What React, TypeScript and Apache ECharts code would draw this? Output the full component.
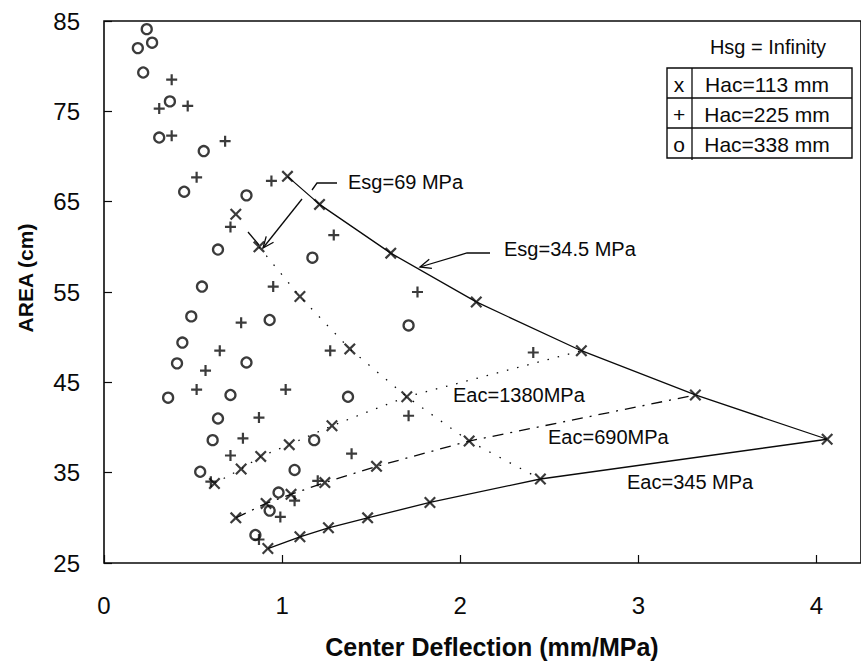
import React, { useEffect, useRef } from "react";
import * as echarts from "echarts";

// ---- data (Center Deflection mm/MPa, AREA cm) ----
const hac113: number[][] = [
  [1.03, 67.8], [1.21, 64.7], [1.61, 59.3], [2.09, 53.9], [2.68, 48.5], [3.32, 43.6], [4.06, 38.7],
  [0.87, 60.0], [1.10, 54.5], [1.38, 48.7], [1.70, 43.4], [2.05, 38.5], [2.45, 34.3],
  [0.62, 33.8], [0.77, 35.4], [0.88, 36.8], [1.04, 38.1], [1.28, 40.2],
  [0.74, 30.0], [0.91, 31.6], [1.05, 32.6], [1.24, 33.9], [1.53, 35.7],
  [0.92, 26.6], [1.10, 27.9], [1.26, 28.9], [1.48, 30.0], [1.83, 31.7],
  [0.74, 63.6],
];
const hac225: number[][] = [
  [0.38, 78.5], [0.31, 75.3], [0.47, 75.6], [0.38, 72.3], [0.68, 71.7], [0.52, 67.7], [0.94, 67.3],
  [0.71, 62.2], [1.29, 61.3], [1.76, 55.0], [0.95, 55.6], [0.77, 51.6], [1.27, 48.5], [0.65, 48.5],
  [2.41, 48.3], [0.57, 46.3], [0.52, 44.2], [1.02, 44.2], [0.87, 41.1], [1.71, 41.3], [0.78, 38.8],
  [0.71, 36.9], [1.39, 37.1], [0.60, 34.0], [1.20, 34.1], [1.07, 31.9], [0.99, 30.1], [0.87, 27.6],
];
const hac338: number[][] = [
  [0.24, 84.1], [0.19, 82.0], [0.27, 82.6], [0.22, 79.3], [0.37, 76.1], [0.31, 72.1], [0.56, 70.6],
  [0.45, 66.1], [0.80, 65.7], [0.64, 59.7], [1.17, 58.8], [0.55, 55.6], [0.49, 52.3], [0.93, 51.9],
  [1.71, 51.3], [0.44, 49.4], [0.41, 47.1], [0.80, 47.2], [0.36, 43.3], [0.71, 43.6], [1.37, 43.4],
  [0.64, 41.0], [0.61, 38.6], [1.18, 38.6], [0.54, 35.1], [1.07, 35.3], [0.98, 32.8], [0.93, 30.8],
  [0.85, 28.1],
];
const esg345: number[][] = [[1.03, 67.8], [1.21, 64.7], [1.61, 59.3], [2.09, 53.9], [2.68, 48.5], [3.32, 43.6], [4.06, 38.7]];
const esg69: number[][] = [[0.87, 60.0], [1.10, 54.5], [1.38, 48.7], [1.70, 43.4], [2.05, 38.5], [2.45, 34.3]];
const eac1380: number[][] = [[0.62, 33.8], [0.77, 35.4], [0.88, 36.8], [1.04, 38.1], [1.28, 40.2], [1.70, 43.4], [2.68, 48.5]];
const eac690: number[][] = [[0.74, 30.0], [0.91, 31.6], [1.05, 32.6], [1.24, 33.9], [1.53, 35.7], [2.05, 38.5], [3.32, 43.6]];
const eac345: number[][] = [[0.92, 26.6], [1.10, 27.9], [1.26, 28.9], [1.48, 30.0], [1.83, 31.7], [2.45, 34.3], [4.06, 38.7]];

const legendTitle = "Hsg = Infinity";
const legendSymbols = ["x", "+", "o"];
const legendLabels = ["Hac=113 mm", "Hac=225 mm", "Hac=338 mm"];

const FONT = "'Liberation Sans', Arial, Helvetica, sans-serif";
const INK = "#0a0a0a";

const X_SYMBOL = "path://M0,1.3L1.3,0L5,3.7L8.7,0L10,1.3L6.3,5L10,8.7L8.7,10L5,6.3L1.3,10L0,8.7L3.7,5Z";
const PLUS_SYMBOL = "path://M4,0H6V4H10V6H6V10H4V6H0V4H4Z";

function arrowHead(x1: number, y1: number, x2: number, y2: number, len = 12, ang = 0.4) {
  const dx = x1 - x2, dy = y1 - y2;
  const l = Math.hypot(dx, dy);
  const ux = dx / l, uy = dy / l;
  const c = Math.cos(ang), s = Math.sin(ang);
  const a = [x2 + len * (ux * c - uy * s), y2 + len * (ux * s + uy * c)];
  const b = [x2 + len * (ux * c + uy * s), y2 + len * (-ux * s + uy * c)];
  return [a, [x2, y2], b];
}

const stroke = { stroke: INK, lineWidth: 1.3, fill: "none" };

export default function App() {
  const ref = useRef<HTMLDivElement>(null);
  useEffect(() => {
    if (!ref.current) return;
    const chart = echarts.init(ref.current, undefined, { renderer: "svg" });

    const lineSeries = (name: string, data: number[][], type: any, width = 1.3) => ({
      name, type: "line", data, showSymbol: false, symbol: "none", z: 1,
      lineStyle: { color: INK, width, type }, silent: true,
    });

    const annText = (text: string, x: number, y: number, size = 20, align = "left") => ({
      type: "text", x, y,
      style: { text, font: `${size}px ${FONT}`, fill: INK, textAlign: align, textVerticalAlign: "middle" },
    });

    const graphic: any[] = [
      // axis titles
      { type: "text", x: 25, y: 278, rotation: Math.PI / 2,
        style: { text: "AREA (cm)", font: `bold 21px ${FONT}`, fill: INK, textAlign: "center", textVerticalAlign: "middle" } },
      { type: "text", x: 492, y: 647,
        style: { text: "Center Deflection (mm/MPa)", font: `bold 25px ${FONT}`, fill: INK, textAlign: "center", textVerticalAlign: "middle" } },
      // annotations
      annText("Esg=69 MPa", 348, 182),
      annText("Esg=34.5 MPa", 504, 249),
      annText("Eac=1380MPa", 453, 395),
      annText("Eac=690MPa", 548, 437),
      annText("Eac=345 MPa", 627, 482),
      // Esg=69 leader
      { type: "polyline", shape: { points: [[337, 183], [317, 183], [312, 190]] }, style: stroke },
      { type: "line", shape: { x1: 302, y1: 199, x2: 263, y2: 248 }, style: stroke },
      { type: "polyline", shape: { points: arrowHead(302, 199, 263, 248) }, style: stroke },
      { type: "line", shape: { x1: 248, y1: 232, x2: 259, y2: 245 }, style: stroke },
      // Esg=34.5 leader
      { type: "polyline", shape: { points: [[490, 253], [467, 253], [420, 267]] }, style: stroke },
      { type: "polyline", shape: { points: arrowHead(467, 253, 420, 267) }, style: stroke },
      // legend
      { type: "text", x: 768, y: 47,
        style: { text: legendTitle, font: `20px ${FONT}`, fill: INK, textAlign: "center", textVerticalAlign: "middle" } },
      { type: "rect", shape: { x: 667, y: 68, width: 185, height: 90 }, style: { ...stroke, lineWidth: 1.4 } },
      { type: "line", shape: { x1: 667, y1: 98, x2: 852, y2: 98 }, style: stroke },
      { type: "line", shape: { x1: 667, y1: 128, x2: 852, y2: 128 }, style: stroke },
      { type: "line", shape: { x1: 692, y1: 68, x2: 692, y2: 160 }, style: stroke },
    ];
    legendSymbols.forEach((s, i) => {
      graphic.push({ type: "text", x: 679, y: 84 + i * 30,
        style: { text: s, font: `21px ${FONT}`, fill: INK, textAlign: "center", textVerticalAlign: "middle" } });
      graphic.push({ type: "text", x: 767, y: 84 + i * 30,
        style: { text: legendLabels[i], font: `21px ${FONT}`, fill: INK, textAlign: "center", textVerticalAlign: "middle" } });
    });

    chart.setOption({
      animation: false,
      backgroundColor: "#fff",
      grid: { left: 104, right: -1, top: 21, bottom: 100, show: true, borderColor: INK, borderWidth: 1.6, backgroundColor: "transparent" },
      xAxis: {
        type: "value", min: 0, max: 4.25, interval: 1,
        axisLine: { show: false },
        axisTick: { show: true, inside: true, length: 8, lineStyle: { color: INK, width: 1.2 } },
        splitLine: { show: false },
        axisLabel: {
          margin: 30, color: INK, fontSize: 24, fontFamily: FONT, showMaxLabel: false,
          formatter: (v: number) => (Math.abs(v - Math.round(v)) < 1e-6 ? String(Math.round(v)) : ""),
        },
      },
      yAxis: {
        type: "value", min: 25, max: 85, interval: 10,
        axisLine: { show: false },
        axisTick: { show: true, inside: true, length: 8, lineStyle: { color: INK, width: 1.2 } },
        splitLine: { show: false },
        axisLabel: { margin: 24, color: INK, fontSize: 24, fontFamily: FONT },
      },
      series: [
        lineSeries("Esg=34.5 MPa", esg345, "solid"),
        lineSeries("Eac=345 MPa", eac345, "solid"),
        lineSeries("Esg=69 MPa", esg69, [1.5, 10]),
        lineSeries("Eac=1380MPa", eac1380, [1.5, 9]),
        lineSeries("Eac=690MPa", eac690, [11, 7, 2, 7]),
        {
          name: "Hac=113 mm", type: "scatter", data: hac113, z: 3,
          symbol: X_SYMBOL, symbolSize: 12,
          itemStyle: { color: INK, borderWidth: 0 },
        },
        {
          name: "Hac=225 mm", type: "scatter", data: hac225, z: 3,
          symbol: PLUS_SYMBOL, symbolSize: 11,
          itemStyle: { color: INK, borderWidth: 0 },
        },
        {
          name: "Hac=338 mm", type: "scatter", data: hac338, z: 3,
          symbol: "circle", symbolSize: 10,
          itemStyle: { color: "rgba(255,255,255,0)", borderColor: INK, borderWidth: 2.3 },
        },
      ],
      graphic,
    });

    return () => chart.dispose();
  }, []);
  return <div ref={ref} style={{ width: 861, height: 663, position: "absolute", left: 0, top: 0 }} />;
}
